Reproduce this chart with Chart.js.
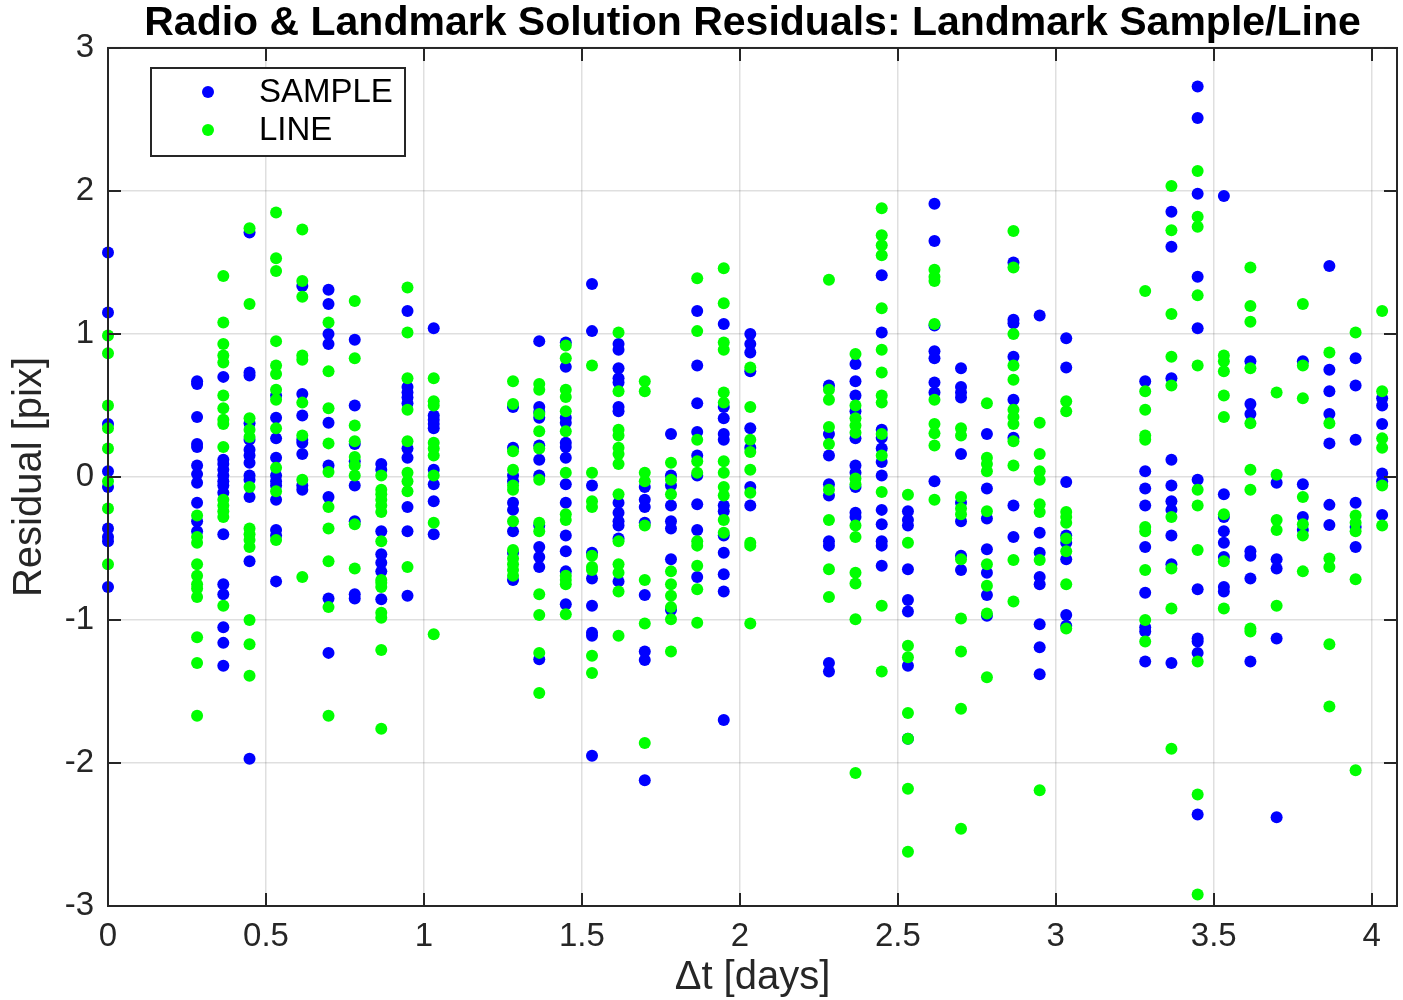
<!DOCTYPE html>
<html>
<head>
<meta charset="utf-8">
<script src="https://cdn.jsdelivr.net/npm/chart.js@4.4.0/dist/chart.umd.min.js"></script>
<style>
  html, body { margin: 0; padding: 0; background: #ffffff; }
  #wrap { width: 1403px; height: 1000px; }
</style>
</head>
<body>
<div id="wrap"><canvas id="residuals" width="1403" height="1000"></canvas></div>
<script>
// Observation epochs (days since start); each epoch holds one set of landmark residuals
const columnTimes = [
  0,
  0.282, 0.365, 0.448, 0.532, 0.615, 0.698, 0.781, 0.865, 0.948, 1.031,
  1.282, 1.365, 1.449, 1.532, 1.616, 1.699, 1.782, 1.865, 1.949, 2.033,
  2.282, 2.366, 2.449, 2.532, 2.616, 2.700, 2.782, 2.866, 2.949, 3.033,
  3.283, 3.366, 3.449, 3.532, 3.616, 3.699, 3.782, 3.866, 3.949, 4.033
];

// Sample-direction residuals [pix], one list per epoch
const sampleResiduals = [
  [1.57, 1.15, 0.37, 0.04, -0.07, -0.36, -0.42, -0.45, -0.77],
  [0.67, 0.65, 0.42, 0.23, 0.21, 0.08, 0.02, -0.04, -0.18, -0.31, -0.38],
  [0.70, 0.12, 0.09, 0.05, 0.01, -0.03, -0.06, -0.11, -0.40, -0.75, -0.82, -1.05, -1.16, -1.32],
  [1.71, 0.73, 0.71, 0.375, 0.26, 0.19, 0.15, 0.10, 0.01, -0.02, -0.14, -0.59, -1.97],
  [0.57, 0.415, 0.27, 0.135, 0.01, -0.03, -0.06, -0.16, -0.37, -0.41, -0.73],
  [1.335, 0.58, 0.43, 0.26, 0.24, 0.16, -0.06, -0.09],
  [1.31, 1.21, 1.00, 0.93, 0.38, 0.08, -0.14, -0.85, -1.23],
  [0.96, 0.50, 0.23, 0.11, -0.06, -0.31, -0.82, -0.85],
  [0.09, 0.05, -0.38, -0.54, -0.60, -0.66, -0.855],
  [1.16, 0.63, 0.59, 0.555, 0.515, 0.20, 0.135, -0.21, -0.38, -0.83],
  [1.04, 0.43, 0.40, 0.37, 0.34, 0.05, -0.05, -0.17, -0.40],
  [0.49, 0.205, 0.01, -0.03, -0.18, -0.23, -0.38, -0.53, -0.72],
  [0.95, 0.49, 0.455, 0.415, 0.22, 0.12, 0.01, -0.34, -0.49, -0.56, -0.63, -1.275],
  [0.94, 0.77, 0.415, 0.38, 0.24, 0.21, 0.135, -0.05, -0.18, -0.41, -0.52, -0.66, -0.89],
  [1.35, 1.02, -0.06, -0.53, -0.71, -0.90, -1.09, -1.11, -1.95],
  [0.93, 0.89, 0.76, 0.69, 0.66, 0.49, 0.46, -0.18, -0.25, -0.31, -0.34, -0.43, -0.73],
  [-0.07, -0.16, -0.21, -0.32, -0.825, -1.22, -1.28, -2.12],
  [0.30, 0.01, -0.06, -0.20, -0.31, -0.36, -0.575, -0.93],
  [1.16, 0.78, 0.515, 0.315, 0.15, 0.01, -0.19, -0.37, -0.70],
  [1.07, 0.49, 0.41, 0.30, 0.26, -0.20, -0.24, -0.41, -0.53, -0.68, -0.80, -1.70],
  [1.00, 0.93, 0.87, 0.74, 0.34, 0.205, -0.07, -0.20],
  [0.64, 0.30, 0.15, -0.05, -0.13, -0.45, -0.48, -1.30, -1.36],
  [0.79, 0.67, 0.57, 0.46, 0.27, 0.08, 0.03, -0.07, -0.25, -0.28],
  [1.41, 1.01, 0.33, 0.275, 0.20, 0.105, 0.01, -0.23, -0.33, -0.45, -0.48, -0.62],
  [-0.24, -0.30, -0.34, -0.645, -0.86, -0.94, -1.32, -1.83],
  [1.91, 1.65, 1.06, 0.88, 0.83, 0.66, 0.59, -0.03],
  [0.76, 0.63, 0.59, 0.555, 0.16, -0.18, -0.31, -0.55, -0.65],
  [0.30, -0.08, -0.29, -0.505, -0.67, -0.825, -0.97],
  [1.50, 1.10, 1.075, 0.84, 0.54, 0.275, -0.20, -0.42],
  [1.13, -0.39, -0.53, -0.70, -0.75, -1.03, -1.19, -1.38],
  [0.97, 0.765, -0.035, -0.41, -0.46, -0.575, -0.965, -1.04],
  [0.67, 0.04, -0.08, -0.20, -0.49, -0.81, -1.05, -1.08, -1.29],
  [1.855, 1.61, 0.69, 0.12, -0.06, -0.17, -0.23, -0.41, -0.61, -1.30],
  [2.73, 2.51, 1.98, 1.40, 1.04, -0.02, -0.785, -1.13, -1.15, -1.23, -2.36],
  [1.965, -0.12, -0.28, -0.38, -0.46, -0.56, -0.77, -0.80],
  [0.81, 0.51, 0.44, -0.52, -0.55, -0.71, -1.29],
  [-0.04, -0.575, -0.64, -1.13, -2.38],
  [0.81, -0.05, -0.28, -0.37],
  [1.475, 0.75, 0.60, 0.44, 0.235, -0.195, -0.335],
  [0.83, 0.64, 0.26, -0.18, -0.35, -0.49],
  [0.55, 0.50, 0.37, 0.025, -0.03, -0.265]
];

// Line-direction residuals [pix], one list per epoch
const lineResiduals = [
  [0.99, 0.865, 0.50, 0.34, 0.20, -0.03, -0.22, -0.61],
  [-0.27, -0.42, -0.46, -0.61, -0.69, -0.75, -0.78, -0.84, -1.12, -1.30, -1.67],
  [1.405, 1.08, 0.93, 0.85, 0.80, 0.57, 0.48, 0.40, 0.37, 0.21, -0.16, -0.20, -0.24, -0.28, -0.90],
  [1.74, 1.21, 0.41, 0.33, 0.28, -0.07, -0.36, -0.40, -0.44, -0.49, -1.00, -1.17, -1.39],
  [1.85, 1.53, 1.44, 0.95, 0.78, 0.72, 0.61, 0.54, 0.34, 0.065, -0.10, -0.44],
  [1.73, 1.37, 1.26, 0.85, 0.82, 0.52, 0.29, -0.02, -0.70],
  [1.08, 0.74, 0.48, 0.235, 0.035, -0.21, -0.36, -0.59, -0.91, -1.67],
  [1.23, 0.83, 0.36, 0.25, 0.14, 0.08, 0.01, -0.33, -0.64],
  [0.01, -0.09, -0.12, -0.16, -0.20, -0.245, -0.45, -0.72, -0.74, -0.77, -0.95, -0.985, -1.21, -1.76],
  [1.325, 1.01, 0.69, 0.47, 0.25, 0.03, -0.03, -0.10, -0.63],
  [0.69, 0.53, 0.50, 0.24, 0.20, 0.15, 0.01, -0.32, -1.10],
  [0.67, 0.51, 0.18, 0.05, -0.06, -0.09, -0.31, -0.51, -0.57, -0.61, -0.65, -0.69],
  [0.65, 0.61, 0.44, 0.32, 0.20, -0.02, -0.32, -0.38, -0.82, -0.965, -1.23, -1.51],
  [0.92, 0.83, 0.61, 0.56, 0.46, 0.32, 0.03, -0.26, -0.30, -0.69, -0.72, -0.75, -0.96],
  [0.78, 0.03, -0.17, -0.21, -0.55, -0.63, -0.65, -1.25, -1.37],
  [1.01, 0.60, 0.33, 0.29, 0.205, 0.16, 0.09, -0.12, -0.45, -0.61, -0.67, -0.80, -1.11],
  [0.67, 0.60, 0.03, -0.03, -0.34, -0.72, -1.025, -1.86],
  [0.10, -0.02, -0.12, -0.66, -0.75, -0.83, -0.91, -0.995, -1.22],
  [1.39, 1.02, 0.26, 0.11, 0.03, -0.45, -0.48, -0.62, -0.785, -1.02],
  [1.46, 1.215, 0.94, 0.89, 0.59, 0.52, 0.11, 0.03, -0.07, -0.13, -0.30, -0.39],
  [0.765, 0.49, 0.26, 0.175, 0.05, -0.11, -0.46, -0.48, -1.025],
  [1.38, 0.61, 0.54, 0.35, 0.23, -0.09, -0.30, -0.645, -0.84],
  [0.86, 0.50, 0.41, 0.36, 0.31, -0.01, -0.05, -0.34, -0.42, -0.67, -0.745, -0.995, -2.07],
  [1.88, 1.69, 1.62, 1.55, 1.18, 0.89, 0.73, 0.57, 0.52, 0.30, 0.15, -0.105, -0.90, -1.36],
  [-0.125, -0.46, -1.18, -1.26, -1.65, -1.83, -2.18, -2.62],
  [1.45, 1.40, 1.37, 1.07, 0.54, 0.37, 0.305, 0.22, -0.16],
  [0.34, 0.29, -0.14, -0.22, -0.26, -0.575, -0.99, -1.22, -1.62, -2.46],
  [0.515, 0.135, 0.09, 0.04, -0.24, -0.61, -0.76, -0.955, -1.40],
  [1.72, 1.465, 1.00, 0.78, 0.68, 0.47, 0.42, 0.37, 0.25, 0.08, -0.58, -0.87],
  [0.38, 0.16, 0.04, -0.02, -0.19, -0.245, -0.58, -2.19],
  [0.53, 0.46, -0.245, -0.28, -0.32, -0.43, -0.52, -0.75, -1.06],
  [1.30, 0.60, 0.47, 0.29, 0.26, -0.35, -0.38, -0.65, -1.00, -1.15],
  [2.035, 1.725, 1.14, 0.84, 0.64, -0.28, -0.64, -0.92, -1.90],
  [2.14, 1.82, 1.75, 1.27, 0.78, -0.09, -0.20, -0.51, -1.29, -2.22, -2.92],
  [0.85, 0.81, 0.74, 0.57, 0.42, -0.26, -0.59, -0.92],
  [1.465, 1.195, 1.085, 0.76, 0.375, 0.05, -0.09, -1.06, -1.08],
  [0.59, 0.015, -0.30, -0.37, -0.90],
  [1.21, 0.78, 0.55, -0.14, -0.33, -0.41, -0.66],
  [0.87, 0.375, -0.57, -0.63, -1.17, -1.605],
  [1.01, -0.27, -0.32, -0.38, -0.715, -2.05],
  [1.16, 0.60, 0.27, 0.205, -0.06, -0.34]
];

const seriesNames = ['SAMPLE', 'LINE'];
const seriesColors = ['#0000ff', '#00ff00'];
const chartTitle = 'Radio & Landmark Solution Residuals: Landmark Sample/Line';
const xAxisTitle = '\u0394t [days]';
const yAxisTitle = 'Residual [pix]';

const FONT = "'Liberation Sans', Arial, Helvetica, sans-serif";
const AXIS_COLOR = '#262626';

function toPoints(residuals) {
  const pts = [];
  columnTimes.forEach((t, i) => residuals[i].forEach(r => pts.push({ x: t, y: r })));
  return pts;
}

// Axes box with inward tick marks, plus an in-plot legend
const framePlugin = {
  id: 'frame',
  afterDatasetsDraw(chart) {
    const { ctx, chartArea: a, scales } = chart;
    const tl = 13;
    ctx.save();
    ctx.strokeStyle = AXIS_COLOR;
    ctx.lineWidth = 2;
    ctx.beginPath();
    scales.x.ticks.forEach(t => {
      const px = Math.round(scales.x.getPixelForValue(t.value));
      ctx.moveTo(px, a.bottom); ctx.lineTo(px, a.bottom - tl);
      ctx.moveTo(px, a.top); ctx.lineTo(px, a.top + tl);
    });
    scales.y.ticks.forEach(t => {
      const py = Math.round(scales.y.getPixelForValue(t.value));
      ctx.moveTo(a.left, py); ctx.lineTo(a.left + tl, py);
      ctx.moveTo(a.right, py); ctx.lineTo(a.right - tl, py);
    });
    ctx.stroke();
    ctx.strokeRect(a.left, a.top, a.right - a.left, a.bottom - a.top);

    // legend
    const lx = 151, ly = 68, lw = 254, lh = 88;
    ctx.fillStyle = '#ffffff';
    ctx.fillRect(lx, ly, lw, lh);
    ctx.strokeRect(lx, ly, lw, lh);
    ctx.font = '33px ' + FONT;
    ctx.textBaseline = 'middle';
    ctx.textAlign = 'left';
    chart.data.datasets.forEach((ds, i) => {
      const cy = ly + 24 + i * 38;
      ctx.fillStyle = ds.backgroundColor;
      ctx.beginPath();
      ctx.arc(lx + 57, cy, 6, 0, Math.PI * 2);
      ctx.fill();
      ctx.fillStyle = '#000000';
      ctx.fillText(ds.label, lx + 108, cy + 1);
    });
    ctx.restore();
  }
};

new Chart(document.getElementById('residuals'), {
  type: 'scatter',
  data: {
    datasets: [
      { label: seriesNames[0], data: toPoints(sampleResiduals), backgroundColor: seriesColors[0],
        borderWidth: 0, pointRadius: 6, pointHoverRadius: 6, clip: false, order: 1 },
      { label: seriesNames[1], data: toPoints(lineResiduals), backgroundColor: seriesColors[1],
        borderWidth: 0, pointRadius: 6, pointHoverRadius: 6, clip: false, order: 0 }
    ]
  },
  options: {
    responsive: false,
    animation: false,
    devicePixelRatio: 1,
    layout: { padding: { left: 0, right: 2, top: 0, bottom: 0 } },
    plugins: {
      legend: { display: false },
      tooltip: { enabled: false },
      title: {
        display: true,
        text: chartTitle,
        fullSize: false,
        color: '#000000',
        font: { family: FONT, size: 41, weight: 'bold', lineHeight: 1.17 },
        padding: { top: 0, bottom: 0 }
      }
    },
    scales: {
      x: {
        type: 'linear',
        min: 0,
        max: 4.08,
        afterFit(scale) { scale.height = 94; },
        border: { display: false },
        grid: { color: 'rgba(38,38,38,0.15)', lineWidth: 1.5, drawTicks: false },
        ticks: {
          stepSize: 0.5,
          includeBounds: false,
          padding: 11,
          color: AXIS_COLOR,
          font: { family: FONT, size: 33 },
          callback: v => String(v)
        },
        title: {
          display: true,
          text: xAxisTitle,
          color: AXIS_COLOR,
          font: { family: FONT, size: 40, lineHeight: 1.1 },
          padding: { top: 0, bottom: 0 }
        }
      },
      y: {
        type: 'linear',
        min: -3,
        max: 3,
        afterFit(scale) { scale.width = 108; },
        border: { display: false },
        grid: { color: 'rgba(38,38,38,0.15)', lineWidth: 1.5, drawTicks: false },
        ticks: {
          stepSize: 1,
          padding: 14,
          color: AXIS_COLOR,
          font: { family: FONT, size: 33 },
          callback: v => String(v)
        },
        title: {
          display: true,
          text: yAxisTitle,
          color: AXIS_COLOR,
          font: { family: FONT, size: 40, lineHeight: 1.2 },
          padding: { top: 6, bottom: 0 }
        }
      }
    }
  },
  plugins: [framePlugin]
});
</script>
</body>
</html>
